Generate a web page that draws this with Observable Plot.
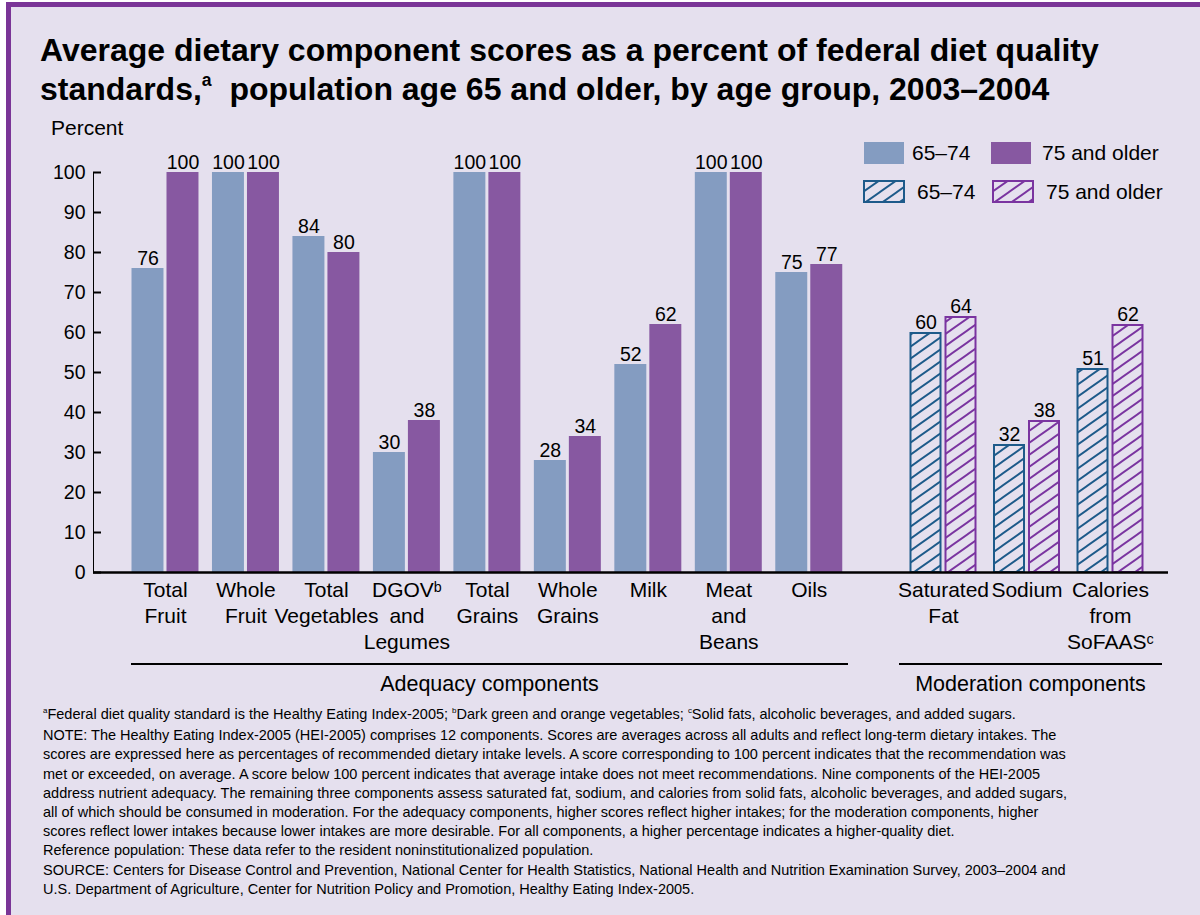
<!DOCTYPE html>
<html>
<head>
<meta charset="utf-8">
<script src="https://cdn.jsdelivr.net/npm/d3@7"></script>
<script src="https://cdn.jsdelivr.net/npm/@observablehq/plot@0.6"></script>
<style>
  html, body { margin: 0; padding: 0; background: #ffffff; }
  body { font-family: "Liberation Sans", Arial, Helvetica, sans-serif; color: #000; width: 1200px; height: 915px; position: relative; overflow: hidden; }
  #frame { position: absolute; left: 6px; top: 2px; width: 1194px; height: 913px; background: #e5e0ee; border-left: 5px solid #7a3597; border-top: 5px solid #7a3597; box-sizing: border-box; }
  .abs { position: absolute; white-space: nowrap; }
  sup { font-size: 0.55em; vertical-align: baseline; position: relative; top: -0.75em; }
  #title { left: 40px; top: 30.5px; font-size: 32px; font-weight: bold; line-height: 39px; }
  #percent { left: 51px; top: 118px; font-size: 21px; line-height: 20px; }
  .legrow { position: absolute; display: flex; align-items: center; height: 23px; font-size: 21px; }
  .sw { width: 40px; height: 22px; }
  .glabel { font-size: 21.5px; line-height: 20px; text-align: center; }
  .gline { position: absolute; height: 0; border-top: 2.5px solid #000; }
  #notes { left: 43px; top: 705px; font-size: 14.5px; line-height: 19.2px; }
</style>
</head>
<body>
<div id="frame"></div>
<svg width="0" height="0" style="position:absolute">
  <defs>
    <pattern id="hatch-blue" patternUnits="userSpaceOnUse" width="17" height="12">
      <rect width="17" height="12" fill="#e5e0ee"/>
      <path d="M-2,13.412 L19,-1.412 M-2,1.412 L2,-1.412 M15,13.412 L19,10.588" stroke="#1d5a8a" stroke-width="1.9"/>
    </pattern>
    <pattern id="hatch-purple" patternUnits="userSpaceOnUse" width="17" height="12">
      <rect width="17" height="12" fill="#e5e0ee"/>
      <path d="M-2,13.412 L19,-1.412 M-2,1.412 L2,-1.412 M15,13.412 L19,10.588" stroke="#7a34a0" stroke-width="1.9"/>
    </pattern>
  </defs>
</svg>

<div id="title" class="abs">Average dietary component scores as a percent of federal diet quality<br>standards,<sup>a</sup>&nbsp; population age 65 and older, by age group, 2003–2004</div>
<div id="percent" class="abs">Percent</div>

<div class="legrow" style="left:864px;top:141px;">
  <div class="sw" style="background:#849cc1"></div><span style="margin-left:8px">65–74</span>
</div>
<div class="legrow" style="left:991px;top:141px;">
  <div class="sw" style="background:#8758a1"></div><span style="margin-left:11px">75 and older</span>
</div>
<div class="legrow" style="left:863px;top:180px;">
  <svg width="42" height="23"><rect x="1" y="1" width="40" height="21" fill="url(#hatch-blue)" stroke="#1d5a8a" stroke-width="2"/></svg><span style="margin-left:12px">65–74</span>
</div>
<div class="legrow" style="left:992px;top:180px;">
  <svg width="42" height="23"><rect x="1" y="1" width="40" height="21" fill="url(#hatch-purple)" stroke="#7a34a0" stroke-width="2"/></svg><span style="margin-left:12px">75 and older</span>
</div>

<div id="plotA" class="abs" style="left:0px;top:150px;"></div>
<div id="plotB" class="abs" style="left:849px;top:150px;"></div>

<div class="gline" style="left:131px;top:663px;width:717px;"></div>
<div class="abs glabel" style="left:131px;top:674px;width:717px;">Adequacy components</div>
<div class="gline" style="left:899px;top:663px;width:263px;"></div>
<div class="abs glabel" style="left:899px;top:674px;width:263px;">Moderation components</div>

<div id="notes" class="abs"><sup>a</sup>Federal diet quality standard is the Healthy Eating Index-2005; <sup>b</sup>Dark green and orange vegetables; <sup>c</sup>Solid fats, alcoholic beverages, and added sugars.<br>NOTE: The Healthy Eating Index-2005 (HEI-2005) comprises 12 components. Scores are averages across all adults and reflect long-term dietary intakes. The<br>scores are expressed here as percentages of recommended dietary intake levels. A score corresponding to 100 percent indicates that the recommendation was<br>met or exceeded, on average. A score below 100 percent indicates that average intake does not meet recommendations. Nine components of the HEI-2005<br>address nutrient adequacy. The remaining three components assess saturated fat, sodium, and calories from solid fats, alcoholic beverages, and added sugars,<br>all of which should be consumed in moderation. For the adequacy components, higher scores reflect higher intakes; for the moderation components, higher<br>scores reflect lower intakes because lower intakes are more desirable. For all components, a higher percentage indicates a higher-quality diet.<br>Reference population: These data refer to the resident noninstitutionalized population.<br>SOURCE: Centers for Disease Control and Prevention, National Center for Health Statistics, National Health and Nutrition Examination Survey, 2003–2004 and<br>U.S. Department of Agriculture, Center for Nutrition Policy and Promotion, Healthy Eating Index-2005.</div>

<script>
// ---------------- DATA ----------------
const ageGroups = ["65–74", "75 and older"];

const adequacyComponents = ["Total Fruit", "Whole Fruit", "Total Vegetables", "DGOV and Legumes", "Total Grains", "Whole Grains", "Milk", "Meat and Beans", "Oils"];
const adequacyLabels = ["Total\nFruit", "Whole\nFruit", "Total\nVegetables", "DGOVᵇ\nand\nLegumes", "Total\nGrains", "Whole\nGrains", "Milk", "Meat\nand\nBeans", "Oils"];
const adequacy65to74 = [76, 100, 84, 30, 100, 28, 52, 100, 75];
const adequacy75plus = [100, 100, 80, 38, 100, 34, 62, 100, 77];

const moderationComponents = ["Saturated Fat", "Sodium", "Calories from SoFAAS"];
const moderationLabels = ["Saturated\nFat", "Sodium", "Calories\nfrom\nSoFAASᶜ"];
const moderation65to74 = [60, 32, 51];
const moderation75plus = [64, 38, 62];

const yTicks = [0, 10, 20, 30, 40, 50, 60, 70, 80, 90, 100];

// ---------------- BUILD ----------------
const FONT = '"Liberation Sans", Arial, Helvetica, sans-serif';
const TICK = 8;

function rows(components, a, b) {
  return [
    ...components.map((c, i) => ({component: c, age: ageGroups[0], value: a[i]})),
    ...components.map((c, i) => ({component: c, age: ageGroups[1], value: b[i]}))
  ];
}

function makeChart({components, labels, data, width, marginLeft, marginRight, insetLeft, insetRight, paddingInner, hatched, showY}) {
  const young = data.filter(d => d.age === ageGroups[0]);
  const old = data.filter(d => d.age === ageGroups[1]);
  const barW = 32, gap = 3;
  const half = barW + gap;
  const off = (barW + gap) / 2;
  const marks = [];
  if (hatched) {
    marks.push(Plot.barY(young, {x: "component", y: "value", fill: "url(#hatch-blue)", stroke: "#1d5a8a", strokeWidth: 2, insetLeft: 1, insetRight: half + 1, insetTop: 1}));
    marks.push(Plot.barY(old, {x: "component", y: "value", fill: "url(#hatch-purple)", stroke: "#7a34a0", strokeWidth: 2, insetLeft: half + 1, insetRight: 1, insetTop: 1}));
  } else {
    marks.push(Plot.barY(young, {x: "component", y: "value", fill: "#849cc1", insetRight: half}));
    marks.push(Plot.barY(old, {x: "component", y: "value", fill: "#8758a1", insetLeft: half}));
  }
  marks.push(Plot.text(young, {x: "component", y: "value", text: d => String(d.value), dx: -off, dy: -10, fontSize: 19.5}));
  marks.push(Plot.text(old, {x: "component", y: "value", text: d => String(d.value), dx: off, dy: -10, fontSize: 19.5}));
  marks.push(Plot.text(components, {x: d => d, text: (d, i) => labels[i], frameAnchor: "bottom", lineAnchor: "top", dy: 6, lineHeight: 1.24, fontSize: 21}));
  marks.push(Plot.ruleY([0], {stroke: "#000", strokeWidth: 2.5}));

  return Plot.plot({
    width, height: 512,
    marginLeft, marginRight, marginTop: 22, marginBottom: 90,
    style: {background: "transparent", fontFamily: FONT, fontSize: "19.5px", color: "#000", overflow: "visible"},
    x: {domain: components, axis: null, round: false, paddingInner, paddingOuter: paddingInner / 2, insetLeft, insetRight},
    y: showY
      ? {domain: [0, 100], ticks: yTicks, tickSize: TICK, tickPadding: 0, line: true, label: null, tickFormat: d => String(d)}
      : {domain: [0, 100], axis: null},
    marks
  });
}

const svgA = makeChart({
  components: adequacyComponents, labels: adequacyLabels,
  data: rows(adequacyComponents, adequacy65to74, adequacy75plus),
  width: 849, marginLeft: 93, marginRight: 0, insetLeft: 31.75, insetRight: 0,
  paddingInner: 1 - 67 / 80.5, hatched: false, showY: true
});
document.getElementById("plotA").appendChild(svgA);

const svgB = makeChart({
  components: moderationComponents, labels: moderationLabels,
  data: rows(moderationComponents, moderation65to74, moderation75plus),
  width: 351, marginLeft: 0, marginRight: 32, insetLeft: 52.25, insetRight: 16.25,
  paddingInner: 1 - 67 / 83.5, hatched: true, showY: false
});
document.getElementById("plotB").appendChild(svgB);

// Point the y-axis ticks inward (to the right of the axis line), as in the original
const A = d3.select(svgA);
A.selectAll("[aria-label='y-axis'] g.tick line").attr("x2", TICK).attr("stroke-width", 2);
A.selectAll("[aria-label='y-axis tick'] path").attr("d", `M0,0L${TICK},0`).attr("stroke-width", 2);
A.selectAll("[aria-label='y-axis'] path.domain, [aria-label='y-axis line'] line, [aria-label='y-axis line'] path").attr("stroke-width", 2).attr("stroke", "#000");
</script>
</body>
</html>
